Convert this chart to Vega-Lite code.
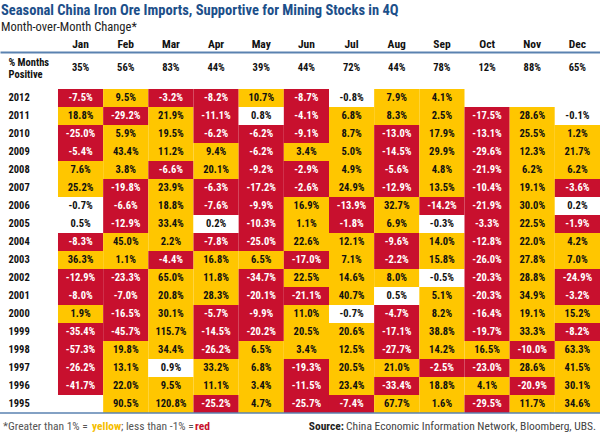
{
  "$schema": "https://vega.github.io/schema/vega-lite/v6.json",
  "width": 600,
  "height": 361,
  "autosize": "none",
  "padding": {"left": 0, "right": 0, "top": 52, "bottom": 23},
  "background": "white",
  "title": {
    "text": "Seasonal China Iron Ore Imports, Supportive for Mining Stocks in 4Q",
    "subtitle": "Month-over-Month Change*",
    "anchor": "start",
    "frame": "group",
    "orient": "top",
    "offset": 4,
    "dx": 1,
    "fontSize": 14.5,
    "fontWeight": "bold",
    "color": "#1C4F8A",
    "subtitleFontSize": 12.5,
    "subtitleColor": "#222222",
    "subtitlePadding": 2
  },
  "config": {
    "font": "Roboto Condensed, Roboto, Liberation Sans, sans-serif",
    "view": {"stroke": null},
    "locale": {
      "number": {"decimal": ".", "thousands": ",", "grouping": [3], "currency": ["", "%"], "minus": "-"}
    }
  },
  "datasets": {
    "cells": [
      {"year":"2012","month":"Jan","value":-7.5},{"year":"2012","month":"Feb","value":9.5},{"year":"2012","month":"Mar","value":-3.2},{"year":"2012","month":"Apr","value":-8.2},{"year":"2012","month":"May","value":10.7},{"year":"2012","month":"Jun","value":-8.7},{"year":"2012","month":"Jul","value":-0.8},{"year":"2012","month":"Aug","value":7.9},{"year":"2012","month":"Sep","value":4.1},
      {"year":"2011","month":"Jan","value":18.8},{"year":"2011","month":"Feb","value":-29.2},{"year":"2011","month":"Mar","value":21.9},{"year":"2011","month":"Apr","value":-11.1},{"year":"2011","month":"May","value":0.8},{"year":"2011","month":"Jun","value":-4.1},{"year":"2011","month":"Jul","value":6.8},{"year":"2011","month":"Aug","value":8.3},{"year":"2011","month":"Sep","value":2.5},{"year":"2011","month":"Oct","value":-17.5},{"year":"2011","month":"Nov","value":28.6},{"year":"2011","month":"Dec","value":-0.1},
      {"year":"2010","month":"Jan","value":-25.0},{"year":"2010","month":"Feb","value":5.9},{"year":"2010","month":"Mar","value":19.5},{"year":"2010","month":"Apr","value":-6.2},{"year":"2010","month":"May","value":-6.2},{"year":"2010","month":"Jun","value":-9.1},{"year":"2010","month":"Jul","value":8.7},{"year":"2010","month":"Aug","value":-13.0},{"year":"2010","month":"Sep","value":17.9},{"year":"2010","month":"Oct","value":-13.1},{"year":"2010","month":"Nov","value":25.5},{"year":"2010","month":"Dec","value":1.2},
      {"year":"2009","month":"Jan","value":-5.4},{"year":"2009","month":"Feb","value":43.4},{"year":"2009","month":"Mar","value":11.2},{"year":"2009","month":"Apr","value":9.4},{"year":"2009","month":"May","value":-6.2},{"year":"2009","month":"Jun","value":3.4},{"year":"2009","month":"Jul","value":5.0},{"year":"2009","month":"Aug","value":-14.5},{"year":"2009","month":"Sep","value":29.9},{"year":"2009","month":"Oct","value":-29.6},{"year":"2009","month":"Nov","value":12.3},{"year":"2009","month":"Dec","value":21.7},
      {"year":"2008","month":"Jan","value":7.6},{"year":"2008","month":"Feb","value":3.8},{"year":"2008","month":"Mar","value":-6.6},{"year":"2008","month":"Apr","value":20.1},{"year":"2008","month":"May","value":-9.2},{"year":"2008","month":"Jun","value":-2.9},{"year":"2008","month":"Jul","value":4.9},{"year":"2008","month":"Aug","value":-5.6},{"year":"2008","month":"Sep","value":4.8},{"year":"2008","month":"Oct","value":-21.9},{"year":"2008","month":"Nov","value":6.2},{"year":"2008","month":"Dec","value":6.2},
      {"year":"2007","month":"Jan","value":25.2},{"year":"2007","month":"Feb","value":-19.8},{"year":"2007","month":"Mar","value":23.9},{"year":"2007","month":"Apr","value":-6.3},{"year":"2007","month":"May","value":-17.2},{"year":"2007","month":"Jun","value":-2.6},{"year":"2007","month":"Jul","value":24.9},{"year":"2007","month":"Aug","value":-12.9},{"year":"2007","month":"Sep","value":13.5},{"year":"2007","month":"Oct","value":-10.4},{"year":"2007","month":"Nov","value":19.1},{"year":"2007","month":"Dec","value":-3.6},
      {"year":"2006","month":"Jan","value":-0.7},{"year":"2006","month":"Feb","value":-6.6},{"year":"2006","month":"Mar","value":18.8},{"year":"2006","month":"Apr","value":-7.6},{"year":"2006","month":"May","value":-9.9},{"year":"2006","month":"Jun","value":16.9},{"year":"2006","month":"Jul","value":-13.9},{"year":"2006","month":"Aug","value":32.7},{"year":"2006","month":"Sep","value":-14.2},{"year":"2006","month":"Oct","value":-21.9},{"year":"2006","month":"Nov","value":30.0},{"year":"2006","month":"Dec","value":0.2},
      {"year":"2005","month":"Jan","value":0.5},{"year":"2005","month":"Feb","value":-12.9},{"year":"2005","month":"Mar","value":33.4},{"year":"2005","month":"Apr","value":0.2},{"year":"2005","month":"May","value":-10.3},{"year":"2005","month":"Jun","value":1.1},{"year":"2005","month":"Jul","value":-1.8},{"year":"2005","month":"Aug","value":6.9},{"year":"2005","month":"Sep","value":-0.3},{"year":"2005","month":"Oct","value":-3.3},{"year":"2005","month":"Nov","value":22.5},{"year":"2005","month":"Dec","value":-1.9},
      {"year":"2004","month":"Jan","value":-8.3},{"year":"2004","month":"Feb","value":45.0},{"year":"2004","month":"Mar","value":2.2},{"year":"2004","month":"Apr","value":-7.8},{"year":"2004","month":"May","value":-25.0},{"year":"2004","month":"Jun","value":22.6},{"year":"2004","month":"Jul","value":12.1},{"year":"2004","month":"Aug","value":-9.6},{"year":"2004","month":"Sep","value":14.0},{"year":"2004","month":"Oct","value":-12.8},{"year":"2004","month":"Nov","value":22.0},{"year":"2004","month":"Dec","value":4.2},
      {"year":"2003","month":"Jan","value":36.3},{"year":"2003","month":"Feb","value":1.1},{"year":"2003","month":"Mar","value":-4.4},{"year":"2003","month":"Apr","value":16.8},{"year":"2003","month":"May","value":6.5},{"year":"2003","month":"Jun","value":-17.0},{"year":"2003","month":"Jul","value":7.1},{"year":"2003","month":"Aug","value":-2.2},{"year":"2003","month":"Sep","value":15.8},{"year":"2003","month":"Oct","value":-26.0},{"year":"2003","month":"Nov","value":27.8},{"year":"2003","month":"Dec","value":7.0},
      {"year":"2002","month":"Jan","value":-12.9},{"year":"2002","month":"Feb","value":-23.3},{"year":"2002","month":"Mar","value":65.0},{"year":"2002","month":"Apr","value":11.8},{"year":"2002","month":"May","value":-34.7},{"year":"2002","month":"Jun","value":22.5},{"year":"2002","month":"Jul","value":14.6},{"year":"2002","month":"Aug","value":8.0},{"year":"2002","month":"Sep","value":-0.5},{"year":"2002","month":"Oct","value":-20.3},{"year":"2002","month":"Nov","value":28.8},{"year":"2002","month":"Dec","value":-24.9},
      {"year":"2001","month":"Jan","value":-8.0},{"year":"2001","month":"Feb","value":-7.0},{"year":"2001","month":"Mar","value":20.8},{"year":"2001","month":"Apr","value":28.3},{"year":"2001","month":"May","value":-20.1},{"year":"2001","month":"Jun","value":-21.1},{"year":"2001","month":"Jul","value":40.7},{"year":"2001","month":"Aug","value":0.5},{"year":"2001","month":"Sep","value":5.1},{"year":"2001","month":"Oct","value":-20.3},{"year":"2001","month":"Nov","value":34.9},{"year":"2001","month":"Dec","value":-3.2},
      {"year":"2000","month":"Jan","value":1.9},{"year":"2000","month":"Feb","value":-16.5},{"year":"2000","month":"Mar","value":30.1},{"year":"2000","month":"Apr","value":-5.7},{"year":"2000","month":"May","value":-9.9},{"year":"2000","month":"Jun","value":11.0},{"year":"2000","month":"Jul","value":-0.7},{"year":"2000","month":"Aug","value":-4.7},{"year":"2000","month":"Sep","value":8.2},{"year":"2000","month":"Oct","value":-16.4},{"year":"2000","month":"Nov","value":19.1},{"year":"2000","month":"Dec","value":15.2},
      {"year":"1999","month":"Jan","value":-35.4},{"year":"1999","month":"Feb","value":-45.7},{"year":"1999","month":"Mar","value":115.7},{"year":"1999","month":"Apr","value":-14.5},{"year":"1999","month":"May","value":-20.2},{"year":"1999","month":"Jun","value":20.5},{"year":"1999","month":"Jul","value":20.6},{"year":"1999","month":"Aug","value":-17.1},{"year":"1999","month":"Sep","value":38.8},{"year":"1999","month":"Oct","value":-19.7},{"year":"1999","month":"Nov","value":33.3},{"year":"1999","month":"Dec","value":-8.2},
      {"year":"1998","month":"Jan","value":-57.3},{"year":"1998","month":"Feb","value":19.8},{"year":"1998","month":"Mar","value":34.4},{"year":"1998","month":"Apr","value":-26.2},{"year":"1998","month":"May","value":6.5},{"year":"1998","month":"Jun","value":3.4},{"year":"1998","month":"Jul","value":12.5},{"year":"1998","month":"Aug","value":-27.7},{"year":"1998","month":"Sep","value":14.2},{"year":"1998","month":"Oct","value":16.5},{"year":"1998","month":"Nov","value":-10.0},{"year":"1998","month":"Dec","value":63.3},
      {"year":"1997","month":"Jan","value":-26.2},{"year":"1997","month":"Feb","value":13.1},{"year":"1997","month":"Mar","value":0.9},{"year":"1997","month":"Apr","value":33.2},{"year":"1997","month":"May","value":6.8},{"year":"1997","month":"Jun","value":-19.3},{"year":"1997","month":"Jul","value":20.5},{"year":"1997","month":"Aug","value":21.0},{"year":"1997","month":"Sep","value":-2.5},{"year":"1997","month":"Oct","value":-23.0},{"year":"1997","month":"Nov","value":28.6},{"year":"1997","month":"Dec","value":41.5},
      {"year":"1996","month":"Jan","value":-41.7},{"year":"1996","month":"Feb","value":22.0},{"year":"1996","month":"Mar","value":9.5},{"year":"1996","month":"Apr","value":11.1},{"year":"1996","month":"May","value":3.4},{"year":"1996","month":"Jun","value":-11.5},{"year":"1996","month":"Jul","value":23.4},{"year":"1996","month":"Aug","value":-33.4},{"year":"1996","month":"Sep","value":18.8},{"year":"1996","month":"Oct","value":4.1},{"year":"1996","month":"Nov","value":-20.9},{"year":"1996","month":"Dec","value":30.1},
      {"year":"1995","month":"Feb","value":90.5},{"year":"1995","month":"Mar","value":120.8},{"year":"1995","month":"Apr","value":-25.2},{"year":"1995","month":"May","value":4.7},{"year":"1995","month":"Jun","value":-25.7},{"year":"1995","month":"Jul","value":-7.4},{"year":"1995","month":"Aug","value":67.7},{"year":"1995","month":"Sep","value":1.6},{"year":"1995","month":"Oct","value":-29.5},{"year":"1995","month":"Nov","value":11.7},{"year":"1995","month":"Dec","value":34.6}
    ],
    "positive": [
      {"month":"Jan","pct":35},{"month":"Feb","pct":56},{"month":"Mar","pct":83},{"month":"Apr","pct":44},{"month":"May","pct":39},{"month":"Jun","pct":44},
      {"month":"Jul","pct":72},{"month":"Aug","pct":44},{"month":"Sep","pct":78},{"month":"Oct","pct":12},{"month":"Nov","pct":88},{"month":"Dec","pct":65}
    ]
  },
  "layer": [
    {
      "data": {"name": "cells"},
      "mark": {"type": "rect"},
      "encoding": {
        "x": {
          "field": "month", "type": "nominal",
          "scale": {"domain": ["Jan","Feb","Mar","Apr","May","Jun","Jul","Aug","Sep","Oct","Nov","Dec"], "paddingInner": 0, "paddingOuter": 0.642, "align": 1},
          "axis": {"orient": "top", "title": null, "ticks": false, "tickSize": 0, "labelPadding": 3, "labelAngle": 0, "labelFontSize": 11.5, "labelFontWeight": "bold", "labelColor": "#111111", "domainColor": "#5A82B0", "domainWidth": 2}
        },
        "y": {
          "field": "year", "type": "nominal",
          "scale": {"domain": ["pos","2012","2011","2010","2009","2008","2007","2006","2005","2004","2003","2002","2001","2000","1999","1998","1997","1996","1995"], "paddingInner": 0, "paddingOuter": 0.528, "align": 1},
          "axis": {
            "orient": "left", "title": null, "domain": false, "ticks": false, "tickSize": 0,
            "labelAlign": "left", "labelPadding": -8, "labelFontSize": 10.5, "labelFontWeight": "bold", "labelColor": "#111111",
            "labelExpr": "datum.value == 'pos' ? ['% Months', 'Positive'] : datum.label",
            "labelLineHeight": 12,
            "labelOffset": {"condition": {"test": "datum.value == 'pos'", "value": -17}, "value": 0}
          }
        },
        "color": {
          "field": "value", "type": "quantitative",
          "scale": {"type": "threshold", "domain": [-1, 1], "range": ["#C8102E", "#FFFFFF", "#FFC600"]},
          "legend": null
        }
      }
    },
    {
      "data": {"name": "cells"},
      "mark": {"type": "text", "fontSize": 10.5, "fontWeight": "bold"},
      "encoding": {
        "x": {"field": "month", "type": "nominal"},
        "y": {"field": "year", "type": "nominal"},
        "text": {"field": "value", "type": "quantitative", "format": "$.1f"},
        "color": {"condition": {"test": "datum.value < -1", "value": "#FFFFFF"}, "value": "#111111"}
      }
    },
    {
      "data": {"name": "positive"},
      "mark": {"type": "text", "fontSize": 10.5, "fontWeight": "bold", "dy": -12, "color": "#111111"},
      "encoding": {
        "x": {"field": "month", "type": "nominal"},
        "y": {"datum": "pos"},
        "text": {"field": "pct", "type": "quantitative", "format": "$.0f"}
      }
    },
    {
      "data": {"values": [{}]},
      "mark": {"type": "rule", "color": "#5A82B0", "strokeWidth": 1.5},
      "encoding": {
        "y": {"datum": "1995", "bandPosition": 1},
        "x": {"value": 0},
        "x2": {"value": "width"}
      }
    },
    {
      "data": {"values": [{}]},
      "mark": {"type": "text", "text": "*Greater than 1% =", "align": "left", "baseline": "middle", "fontSize": 11.5, "color": "#555555"},
      "encoding": {"x": {"value": 3}, "y": {"value": 375}}
    },
    {
      "data": {"values": [{}]},
      "mark": {"type": "text", "text": "yellow", "align": "left", "baseline": "middle", "fontSize": 11.5, "fontWeight": "bold", "color": "#F5BE00"},
      "encoding": {"x": {"value": 92}, "y": {"value": 375}}
    },
    {
      "data": {"values": [{}]},
      "mark": {"type": "text", "text": "; less than -1% =", "align": "left", "baseline": "middle", "fontSize": 11.5, "color": "#555555"},
      "encoding": {"x": {"value": 121}, "y": {"value": 375}}
    },
    {
      "data": {"values": [{}]},
      "mark": {"type": "text", "text": "red", "align": "left", "baseline": "middle", "fontSize": 11.5, "fontWeight": "bold", "color": "#C8102E"},
      "encoding": {"x": {"value": 195}, "y": {"value": 375}}
    },
    {
      "data": {"values": [{}]},
      "mark": {"type": "text", "text": "Source:", "align": "right", "baseline": "middle", "fontSize": 11.5, "fontWeight": "bold", "color": "#222222"},
      "encoding": {"x": {"value": 344}, "y": {"value": 375}}
    },
    {
      "data": {"values": [{}]},
      "mark": {"type": "text", "text": "China Economic Information Network, Bloomberg, UBS.", "align": "right", "baseline": "middle", "fontSize": 11.5, "color": "#444444"},
      "encoding": {"x": {"value": 596}, "y": {"value": 375}}
    }
  ]
}
